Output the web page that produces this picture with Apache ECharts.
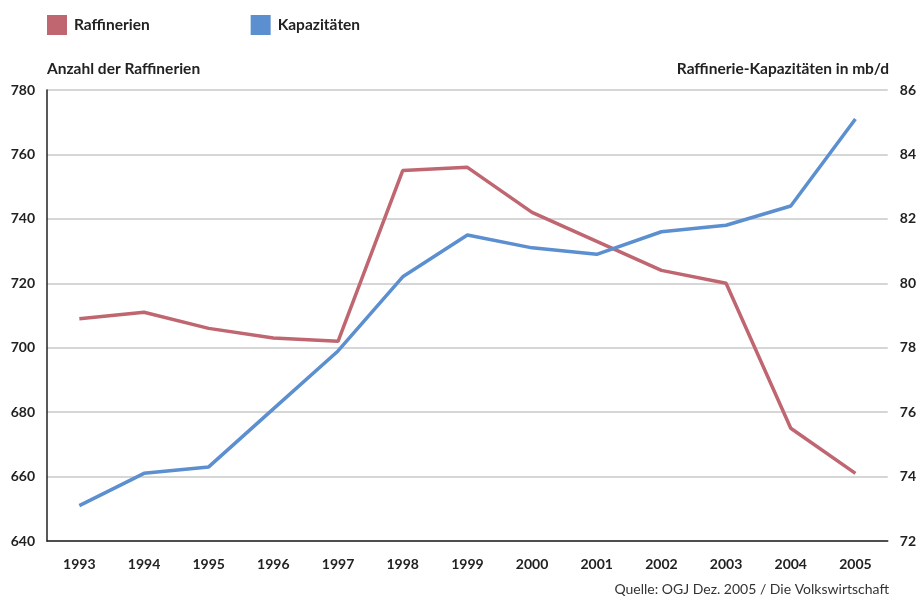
<!DOCTYPE html>
<html>
<head>
<meta charset="utf-8">
<script src="https://cdn.jsdelivr.net/npm/echarts@6/dist/echarts.min.js"></script>
<style>html,body{margin:0;padding:0;background:#fff}#c{width:919px;height:599px}</style>
</head>
<body>
<div id="c"></div>
<script>
const years = ['1993','1994','1995','1996','1997','1998','1999','2000','2001','2002','2003','2004','2005'];
const raffinerien = [709, 711, 706, 703, 702, 755, 756, 742, 733, 724, 720, 675, 661];
const kapazitaeten = [73.1, 74.1, 74.3, 76.1, 77.9, 80.2, 81.5, 81.1, 80.9, 81.6, 81.8, 82.4, 85.1];
const leftTicks = {min: 640, max: 780, interval: 20};
const rightTicks = {min: 72, max: 86, interval: 2};

const RED = '#bf6671', BLUE = '#5b8fcf';
const FONT = 'Lato';
const chart = echarts.init(document.getElementById('c'), null, {renderer: 'canvas'});
chart.setOption({
  backgroundColor: '#fff',
  textStyle: {fontFamily: FONT},
  animation: false,
  legend: {
    left: 42, top: 10, itemWidth: 20, itemHeight: 20, itemGap: 101,
    icon: 'rect',
    textStyle: {fontFamily: FONT, fontWeight: 'bold', fontSize: 15.5, color: '#222', padding: [0,0,0,2]},
    data: ['Raffinerien', 'Kapazitäten']
  },
  graphic: [
    {type: 'text', left: 47, top: 61, style: {text: 'Anzahl der Raffinerien', font: 'bold 15.5px Lato', fill: '#222'}},
    {type: 'text', right: 30, top: 61, style: {text: 'Raffinerie-Kapazitäten in mb/d', font: 'bold 15.5px Lato', fill: '#222'}},
    {type: 'text', right: 30, top: 582, style: {text: 'Quelle: OGJ Dez. 2005 / Die Volkswirtschaft', font: '14px Lato', fill: '#333'}}
  ],
  grid: {left: 47, right: 31, top: 90, bottom: 58, containLabel: false},
  xAxis: {
    type: 'category', data: years, boundaryGap: true,
    axisLine: {lineStyle: {color: '#222', width: 1.5}},
    axisTick: {show: false},
    axisLabel: {margin: 16, fontFamily: FONT, fontWeight: 'bold', fontSize: 14, color: '#222'}
  },
  yAxis: [
    {
      type: 'value', min: leftTicks.min, max: leftTicks.max, interval: leftTicks.interval,
      axisLine: {show: true, lineStyle: {color: '#222', width: 1.5}},
      axisTick: {show: false},
      splitLine: {lineStyle: {color: '#c8c8c8', width: 1.5}},
      axisLabel: {margin: 12, fontFamily: FONT, fontWeight: 'bold', fontSize: 14, color: '#222'}
    },
    {
      type: 'value', min: rightTicks.min, max: rightTicks.max, interval: rightTicks.interval,
      axisLine: {show: false}, axisTick: {show: false}, splitLine: {show: false},
      axisLabel: {margin: 12, fontFamily: FONT, fontWeight: 'bold', fontSize: 14, color: '#222'}
    }
  ],
  series: [
    {name: 'Raffinerien', type: 'line', yAxisIndex: 0, data: raffinerien, showSymbol: false, symbol: 'none',
     lineStyle: {color: RED, width: 3.5}, itemStyle: {color: RED}},
    {name: 'Kapazitäten', type: 'line', yAxisIndex: 1, data: kapazitaeten, showSymbol: false, symbol: 'none',
     lineStyle: {color: BLUE, width: 3.5}, itemStyle: {color: BLUE}}
  ]
});
</script>
</body>
</html>
